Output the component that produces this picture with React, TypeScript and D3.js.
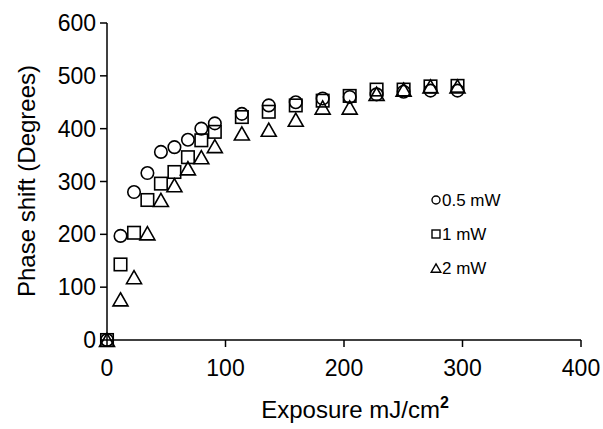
import React from "react";
import * as d3 from "d3";

// exposure (mJ/cm2) shared by all three series
const exposure = [0, 11.4, 22.8, 34.1, 45.5, 56.9, 68.3, 79.6, 91, 113.8, 136.5, 159.3, 182, 204.8, 227.5, 250.3, 273, 295.8];
// phase shift (degrees)
const phase05mW = [0, 197, 280, 316, 356, 365, 379, 400, 410, 428, 444, 450, 457, 460, 465, 470, 472, 472];
const phase1mW = [0, 143, 203, 265, 296, 318, 346, 378, 394, 422, 432, 444, 453, 462, 474, 474, 480, 481];
const phase2mW = [0, 77, 119, 202, 265, 293, 325, 346, 367, 391, 398, 417, 440, 440, 466, 474, 480, 480];

const seriesNames = ["0.5 mW", "1 mW", "2 mW"];
const seriesShapes = ["circle", "square", "triangle"];
const xTicks = [0, 100, 200, 300, 400];
const yTicks = [0, 100, 200, 300, 400, 500, 600];

const W = 603;
const H = 429;
const font = "Arial, 'Liberation Sans', sans-serif";

function Marker({ shape, cx, cy, s }: { shape: string; cx: number; cy: number; s: number }) {
  if (shape === "circle") return <circle cx={cx} cy={cy} r={s / 2} />;
  if (shape === "square") return <rect x={cx - s / 2} y={cy - s / 2} width={s} height={s} />;
  const w = s * 1.2;
  const h = s * 1.05;
  return <path d={`M${cx},${cy - h / 2}L${cx + w / 2},${cy + h / 2}L${cx - w / 2},${cy + h / 2}Z`} />;
}

export default function App() {
  const x = d3.scaleLinear().domain([0, 400]).range([107, 581]);
  const y = d3.scaleLinear().domain([0, 600]).range([340, 23]);

  const series = [phase05mW, phase1mW, phase2mW];

  return (
    <svg width={W} height={H} style={{ position: "absolute", left: 0, top: 0, background: "#fff" }} fontFamily={font}>
      {/* axes */}
      <g stroke="#000" strokeWidth={1.5} fill="none">
        <line x1={x(0)} x2={x(0)} y1={y(600)} y2={y(0)} />
        <line x1={x(0)} x2={x(400)} y1={y(0)} y2={y(0)} />
        {yTicks.map((t) => (
          <line key={"yt" + t} x1={x(0) - 7} x2={x(0)} y1={y(t)} y2={y(t)} />
        ))}
        {xTicks.map((t) => (
          <line key={"xt" + t} x1={x(t)} x2={x(t)} y1={y(0)} y2={y(0) + 7} />
        ))}
      </g>
      <g fontSize={23} fill="#000">
        {yTicks.map((t) => (
          <text key={"yl" + t} x={x(0) - 11} y={y(t)} textAnchor="end" dominantBaseline="central">
            {t}
          </text>
        ))}
        {xTicks.map((t) => (
          <text key={"xl" + t} x={x(t)} y={y(0) + 28} textAnchor="middle" dominantBaseline="central">
            {t}
          </text>
        ))}
        <text x={355} y={409} fontSize={24} textAnchor="middle" dominantBaseline="central">
          Exposure mJ/cm<tspan fontWeight="bold" fontSize={16} dy={-7}>2</tspan>
        </text>
        <text transform={`translate(26,181) rotate(-90)`} fontSize={24} textAnchor="middle" dominantBaseline="central">
          Phase shift (Degrees)
        </text>
      </g>
      {/* data markers */}
      <g stroke="#000" strokeWidth={1.6} fill="none">
        {series.map((vals, si) =>
          vals.map((v, i) => (
            <Marker key={si + "-" + i} shape={seriesShapes[si]} cx={x(exposure[i])} cy={y(v)} s={12.5} />
          ))
        )}
      </g>
      {/* legend */}
      <g>
        {seriesNames.map((n, i) => (
          <g key={n} transform={`translate(436,${200 + i * 34})`}>
            <g stroke="#000" strokeWidth={1.4} fill="none">
              <Marker shape={seriesShapes[i]} cx={0} cy={0} s={8} />
            </g>
            <text x={6} y={0} fontSize={17} dominantBaseline="central" fill="#000">
              {n}
            </text>
          </g>
        ))}
      </g>
    </svg>
  );
}
